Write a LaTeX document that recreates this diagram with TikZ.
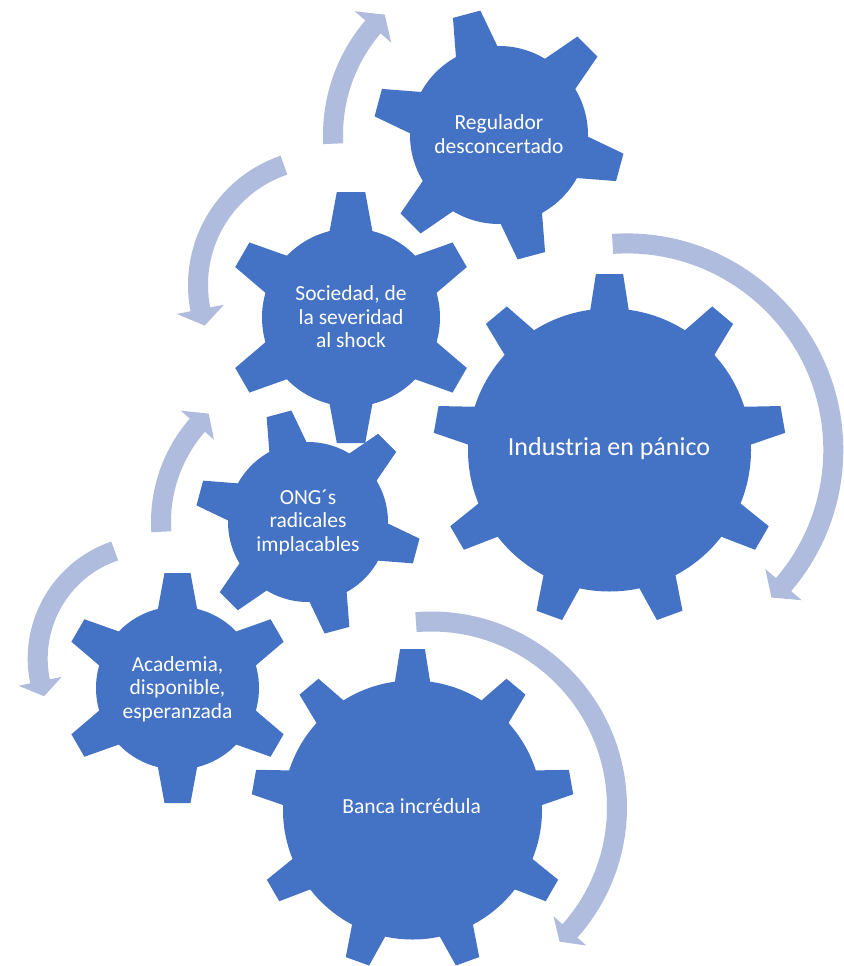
\documentclass[tikz,border=0pt]{standalone}
\usepackage{fontspec}
\setmainfont{Carlito}
\definecolor{gearblue}{HTML}{4472C4}
\definecolor{arrowblue}{HTML}{AFBCDE}
\tikzset{
  gearfill/.style={fill=gearblue},
  arrowband/.style={draw=arrowblue, line width=20pt, line cap=butt},
  arrowtip/.style={fill=arrowblue},
  geartext/.style={text=white, align=center, inner sep=0pt, font=\fontsize{21.5}{23.4}\selectfont},
  bigtext/.style={text=white, align=center, inner sep=0pt, font=\fontsize{26}{28}\selectfont}
}
% #1 cx, #2 cy, #3 body radius, #4 outer radius, #5 teeth, #6 rotation, #7 base half width, #8 tip half width
\newcommand\gearshape[8]{%
  \pgfmathsetmacro\gXb{10*sqrt((#3/10)^2-(#7/10)^2)}%
  \pgfmathsetmacro\gSl{(#7-#8)/(#4-\gXb)}%
  \pgfmathsetmacro\gXi{0.7*#3}%
  \pgfmathsetmacro\gWi{#8+\gSl*(#4-\gXi)}%
  \fill[gearfill] (#1,#2) circle[radius=#3];
  \foreach \k in {1,...,#5}{%
    \fill[gearfill, shift={(#1,#2)}, rotate={#6+90+(\k-1)*360/#5}]
      (\gXi,-\gWi) -- (#4,-#8) -- (#4,#8) -- (\gXi,\gWi) -- cycle;
  }%
}
% #1 name, #2 cx, #3 cy, #4 radius, #5 tail angle, #6 head base angle, #7 tip angle, #8 head half width
\newcommand\cyclearrow[8]{%
  \coordinate (#1) at (#2,#3);
  \pgfmathsetmacro\arrEnd{#6+0.15*(#7-#6)}%
  \pgfmathsetmacro\arrRi{#4-#8}%
  \pgfmathsetmacro\arrRo{#4+#8}%
  \draw[arrowband] ([shift={(#1)}]#5:#4) arc[start angle=#5, end angle=\arrEnd, radius=#4];
  \fill[arrowtip] ([shift={(#1)}]#6:\arrRi) -- ([shift={(#1)}]#6:\arrRo) -- ([shift={(#1)}]#7:#4) -- cycle;
}
\begin{document}
\begin{tikzpicture}[x=1pt,y=1pt]
\useasboundingbox (0,0) rectangle (843,-966);
\fill[white] (0,0) rectangle (843,-966);

% circular arrows
\cyclearrow{a1}{499}{-135}{166}{183}{139.4}{133.5}{24}
\cyclearrow{a2}{324.5}{-285}{126.5}{108.7}{191.1}{198.7}{24}
\cyclearrow{a3}{626.6}{-450.1}{206.7}{93.9}{-40.6}{-45.5}{24}
\cyclearrow{a4}{308}{-522}{147}{183.8}{138.8}{132.5}{22}
\cyclearrow{a5}{151.3}{-658.5}{113.6}{108.8}{191.6}{199.4}{22}
\cyclearrow{a6}{431.2}{-807.3}{185.8}{94.7}{-41.7}{-46.3}{22}

% gears
\gearshape{499}{-135}{89}{125}{6}{15}{21.4}{14.2}
\gearshape{351}{-317.5}{89}{125.5}{6}{0}{21.4}{14.2}
\gearshape{308}{-522}{80}{112}{6}{15}{19.2}{12.8}
\gearshape{177.5}{-688}{81.5}{115}{6}{0}{19.6}{13}
\gearshape{609.5}{-450}{141.5}{176}{9}{0}{19.2}{13.6}
\gearshape{412.5}{-810}{129.5}{161}{9}{0}{17.6}{12.4}

% labels
\node[geartext] (regulador) at (499,-134) {Regulador\\desconcertado};
\node[geartext] (sociedad) at (351,-317) {Sociedad, de\\la severidad\\al shock};
\node[geartext] (ong) at (308,-522) {ONG´s\\radicales\\implacables};
\node[geartext] (academia) at (177.5,-689) {Academia,\\disponible,\\esperanzada};
\node[bigtext] (industria) at (609,-448.6) {Industria en pánico};
\node[geartext] (banca) at (411.7,-806.5) {Banca incrédula};
\end{tikzpicture}
\end{document}
